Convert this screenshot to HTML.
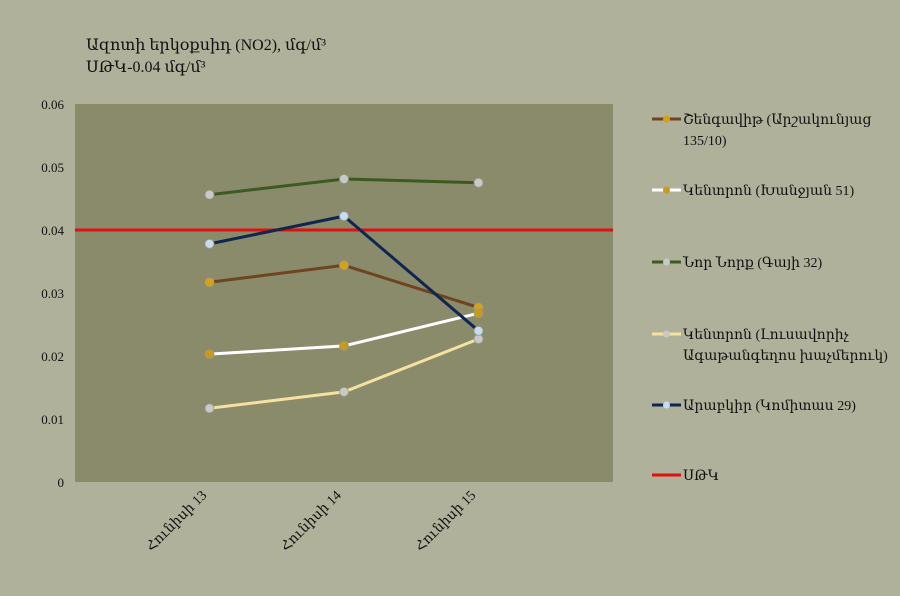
<!DOCTYPE html>
<html><head><meta charset="utf-8"><style>
body{margin:0;background:#b0b19b;}
svg{display:block;font-family:"Liberation Serif","DejaVu Serif",serif;}
</style></head><body>
<svg id="chart" width="900" height="596">
<rect width="900" height="596" fill="#b0b19b"/>
<text x="86" y="50" font-size="16" fill="#111">Ազոտի  երկօքսիդ (NO2), մգ/մ³</text>
<text x="86" y="72" font-size="16" fill="#111">ՍԹԿ-0.04 մգ/մ³</text>
<rect x="75" y="104" width="538" height="378" fill="#8a8b6b"/>
<g id="yaxis"></g>
<g id="xaxis"></g>
<g id="series"></g>
<g id="legend"></g>
</svg>
<script>
const categories = ["Հունիսի 13","Հունիսի 14","Հունիսի 15"];
const yTicks = [0,0.01,0.02,0.03,0.04,0.05,0.06];
const yTickLabels = ["0","0.01","0.02","0.03","0.04","0.05","0.06"];
const shengavit = [0.0317,0.0344,0.0277];
const kentron1 = [0.0203,0.0216,0.0268];
const norNork = [0.0456,0.0481,0.0475];
const kentron2 = [0.0117,0.0143,0.0227];
const arabkir = [0.0378,0.0422,0.0240];
const limitValue = 0.04;
const seriesNames = ["Շենգավիթ (Արշակունյաց","Կենտրոն (Խանջյան 51)","Նոր Նորք (Գայի 32)","Կենտրոն (Լուսավորիչ","Արաբկիր (Կոմիտաս 29)","ՍԹԿ"];

const NS="http://www.w3.org/2000/svg";
const X0=75,X1=613,Y0=482,Y1=104,YMAX=0.06;
const step=(X1-X0)/4;
const xs=i=>X0+(i+1)*step;
const ys=v=>Y0-(v/YMAX)*(Y0-Y1);
function mk(tag,attrs,parent){const e=document.createElementNS(NS,tag);for(const k in attrs)e.setAttribute(k,attrs[k]);parent.appendChild(e);return e;}

const ya=document.getElementById('yaxis');
yTicks.forEach((t,i)=>{
  const tx=mk('text',{x:64,y:ys(t)+5,'text-anchor':'end','font-size':13,fill:'#111'},ya);
  tx.textContent=yTickLabels[i];
  
  
});
const xa=document.getElementById('xaxis');
categories.forEach((c,i)=>{
  const x=xs(i)-2,y=496;
  const tx=mk('text',{x:x,y:y,'text-anchor':'end','font-size':14,fill:'#111',transform:`rotate(-45 ${x} ${y})`},xa);
  tx.textContent=c;
  
  
});

const sg=document.getElementById('series');
const lim=mk('line',{x1:X0,x2:X1,y1:ys(limitValue),y2:ys(limitValue),stroke:'#e01010','stroke-width':3},sg);



const defs=[
 {d:shengavit,line:'#6e4521',mk:'#d6a214',n:'shengavit'},
 {d:kentron1,line:'#ffffff',mk:'#c99a1a',n:'kentron-khanjyan'},
 {d:norNork,line:'#3d5a22',mk:'#c9c9c9',n:'nor-nork'},
 {d:kentron2,line:'#f5e1a0',mk:'#c9c9c9',n:'kentron-lusavorich'},
 {d:arabkir,line:'#0f2650',mk:'#c6dcf2',n:'arabkir'}
];
defs.forEach(s=>{
  const p=mk('polyline',{points:s.d.map((v,i)=>xs(i)+','+ys(v)).join(' '),fill:'none',stroke:s.line,'stroke-width':3},sg);
  
  
});
defs.forEach(s=>{
  s.d.forEach((v,i)=>{
    const c=mk('circle',{cx:xs(i),cy:ys(v),r:4.5,fill:s.mk,stroke:'#9a9a8a','stroke-width':0.8},sg);
    
    
  });
});

const lg=document.getElementById('legend');
const legY=[119,190,262,334,405,475];
const lcols=[['#6e4521','#d6a214'],['#ffffff','#c99a1a'],['#3d5a22','#c9c9c9'],['#f5e1a0','#c9c9c9'],['#0f2650','#c6dcf2'],['#e01010',null]];
const second=["135/10)",null,null,"Ագաթանգեղոս խաչմերուկ)",null,null];
seriesNames.forEach((nm,i)=>{
  const y=legY[i];
  const g=mk('g',{},lg);
  
  
  mk('line',{x1:652,x2:681,y1:y,y2:y,stroke:lcols[i][0],'stroke-width':3},g);
  if(lcols[i][1])mk('circle',{cx:666.5,cy:y,r:3.5,fill:lcols[i][1]},g);
  const t=mk('text',{x:683,y:y+5,'font-size':14,fill:'#111'},g);
  t.textContent=nm;
  if(second[i]){const t2=mk('text',{x:683,y:y+26,'font-size':14,fill:'#111'},g);t2.textContent=second[i];}
});
</script>
</body></html>
